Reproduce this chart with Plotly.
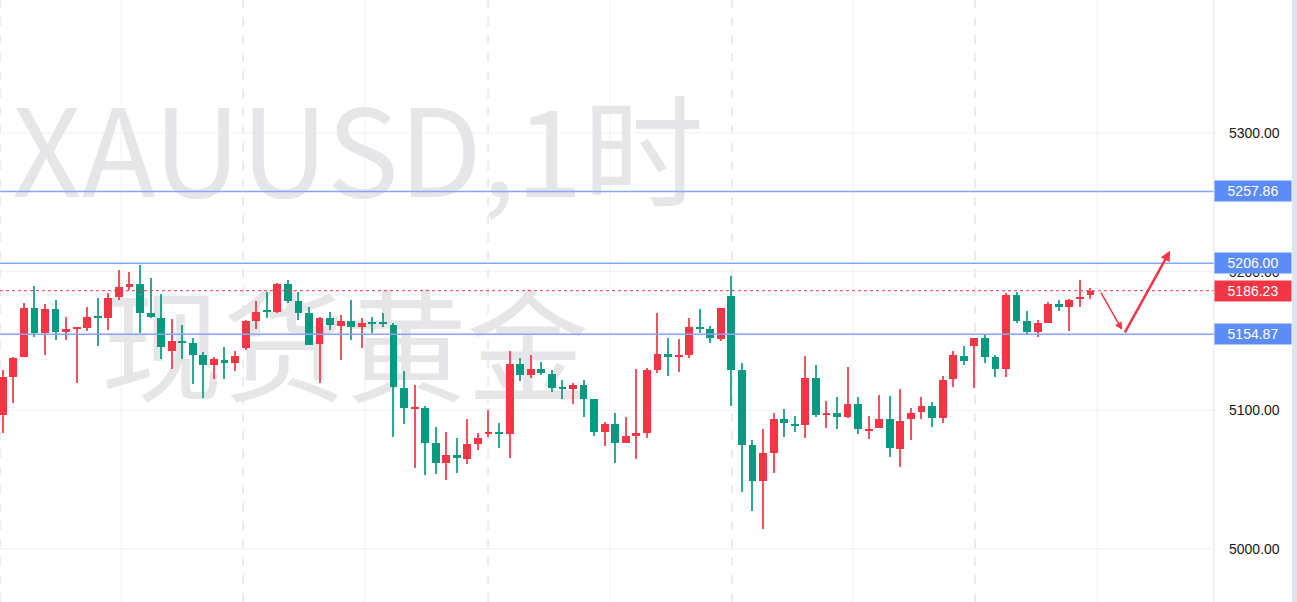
import plotly.graph_objects as go

opens = [5096.5,5124.2,5138.1,5173.7,5155.7,5173.0,5156.4,5158.6,5159.3,5168.0,5166.5,5181.7,5188.9,5191.1,5170.1,5166.5,5142.7,5149.9,5148.5,5139.8,
5132.6,5136.2,5134.1,5144.9,5164.4,5171.6,5170.9,5191.1,5178.8,5170.1,5147.8,5166.5,5160.8,5164.4,5160.0,5163.6,5162.9,5161.5,5116.0,5100.9,
5101.6,5076.3,5061.9,5067.7,5064.8,5075.6,5082.8,5084.3,5082.8,5133.3,5125.4,5129.7,5126.1,5116.0,5115.3,5118.2,5108.1,5084.3,5090.0,5076.3,
5081.4,5083.5,5129.0,5140.5,5138.4,5139.8,5160.0,5158.6,5151.4,5182.4,5129.0,5074.9,5048.9,5069.1,5093.6,5090.0,5089.3,5123.2,5096.5,5098.0,
5095.1,5104.5,5085.7,5087.2,5093.6,5072.0,5093.6,5098.7,5103.0,5094.4,5122.5,5139.1,5146.3,5152.1,5138.4,5129.7,5183.1,5164.4,5156.4,5162.9,
5176.6,5174.5,5180.2,5183.1]
highs = [5129.0,5138.6,5177.3,5189.6,5176.6,5179.5,5167.2,5159.3,5174.5,5181.0,5184.6,5201.2,5199.7,5204.8,5195.4,5183.8,5165.8,5161.5,5152.1,5142.0,
5138.4,5145.6,5142.7,5165.1,5178.8,5185.3,5191.8,5193.9,5185.3,5174.5,5167.2,5170.9,5168.7,5179.5,5166.5,5167.2,5170.1,5162.9,5128.3,5118.2,
5103.0,5087.9,5084.3,5079.9,5093.6,5083.5,5100.1,5090.8,5142.7,5137.7,5139.8,5134.8,5129.0,5121.8,5119.6,5121.8,5108.1,5091.5,5098.0,5095.1,
5129.7,5130.4,5170.1,5152.1,5151.4,5166.5,5173.0,5160.8,5173.7,5196.8,5134.1,5078.5,5086.4,5098.0,5100.9,5095.8,5139.1,5132.6,5106.6,5109.5,
5131.2,5109.5,5095.8,5110.9,5110.2,5115.3,5101.6,5109.5,5105.9,5124.7,5142.7,5146.3,5152.1,5155.0,5139.8,5184.6,5185.3,5171.6,5165.1,5178.1,
5179.5,5180.2,5193.9,5188.2]
lows = [5083.5,5105.2,5138.1,5152.8,5139.8,5150.7,5150.7,5119.6,5157.1,5146.3,5157.9,5179.5,5186.7,5155.7,5166.5,5136.9,5129.7,5136.9,5118.9,5108.8,
5122.5,5122.5,5128.3,5143.4,5158.6,5166.5,5170.1,5177.3,5165.1,5147.0,5119.6,5157.9,5136.2,5150.7,5144.9,5155.7,5160.0,5080.7,5090.0,5058.3,
5053.2,5054.0,5049.6,5054.7,5061.2,5071.3,5080.7,5072.7,5065.5,5121.1,5123.2,5125.4,5113.1,5108.1,5104.5,5095.1,5081.4,5074.2,5061.9,5076.3,
5064.8,5079.9,5126.8,5124.7,5127.6,5137.7,5155.7,5148.5,5149.9,5103.0,5041.0,5027.3,5014.3,5054.7,5080.7,5084.3,5079.9,5095.1,5087.2,5086.4,
5094.4,5082.8,5079.2,5087.2,5066.2,5059.0,5078.5,5093.6,5087.9,5090.8,5116.7,5132.6,5116.0,5134.1,5124.0,5124.0,5162.9,5155.0,5152.8,5162.9,
5171.6,5157.1,5174.5,5180.2]
closes = [5124.2,5137.4,5173.9,5155.7,5173.0,5156.4,5158.6,5159.3,5167.2,5166.5,5181.0,5188.9,5191.1,5170.1,5167.2,5145.6,5149.9,5149.2,5139.8,5132.6,
5136.9,5134.1,5139.1,5164.4,5170.9,5170.9,5191.1,5178.8,5170.1,5147.0,5166.5,5161.5,5164.4,5160.0,5162.9,5162.9,5162.2,5116.7,5101.6,5101.6,
5076.3,5061.9,5067.7,5065.5,5075.6,5079.9,5084.3,5083.5,5133.3,5125.4,5129.7,5126.8,5116.0,5115.3,5118.2,5108.1,5084.3,5090.0,5076.3,5081.4,
5083.5,5129.0,5140.5,5138.4,5139.8,5160.0,5159.3,5152.1,5173.7,5129.0,5074.9,5048.9,5069.1,5093.6,5090.8,5089.3,5123.2,5096.5,5098.0,5095.1,
5104.5,5086.4,5086.4,5093.6,5072.7,5092.2,5098.0,5103.0,5094.4,5121.8,5139.8,5135.5,5152.1,5138.4,5129.7,5183.1,5164.4,5156.4,5162.9,5176.6,
5174.5,5179.5,5181.7,5186.23]
idx = list(range(len(closes)))

levels = [5257.86, 5206.00, 5154.87]
last_price = 5186.23
tick_vals = [5400, 5300, 5200, 5100, 5000]

UP = "#f23645"; DOWN = "#089981"; BLUE = "#5b8cf7"
x0, x1 = -0.26, 114.7
y0, y1 = 4961.6, 5396.0
dom = 1214 / 1297

def px2x(p):
    return (p - 2.7) / 10.56

colors = [UP if c >= o else DOWN for o, c in zip(opens, closes)]
body_base = [min(o, c) for o, c in zip(opens, closes)]
body_h = [max(abs(c - o), 1.0) for o, c in zip(opens, closes)]
wick_h = [h - l for h, l in zip(highs, lows)]

fig = go.Figure()
# watermark on base axes (drawn underneath)
fig.add_trace(go.Scatter(x=[px2x(358), px2x(345)], y=[5276, 5135], mode="text",
    text=["XAUUSD,1时", "现货黄金"],
    textfont=dict(size=[121, 122], color="#e6e6e9", family="Noto Sans CJK SC"),
    hoverinfo="skip", showlegend=False, xaxis="x", yaxis="y"))
# candles on overlaying axes (drawn on top)
fig.add_trace(go.Bar(x=idx, y=wick_h, base=lows, width=0.1, marker=dict(color=colors, line=dict(width=0)),
                     opacity=0.85, showlegend=False, xaxis="x2", yaxis="y2"))
fig.add_trace(go.Bar(x=idx, y=body_h, base=body_base, width=0.74, marker=dict(color=colors, line=dict(width=0)),
                     showlegend=False, xaxis="x2", yaxis="y2"))

shapes = []
for p in [121, 365, 610, 853, 1097]:
    shapes.append(dict(type="line", xref="x", yref="paper", x0=px2x(p), x1=px2x(p), y0=0, y1=1,
                       line=dict(color="#f0f1f4", width=1), layer="below"))
for p in [0, 243, 488, 732, 975]:
    shapes.append(dict(type="line", xref="x", yref="paper", x0=px2x(p), x1=px2x(p), y0=0, y1=1,
                       line=dict(color="#dcdfe6", width=1.2, dash="dash"), layer="below"))
for v in tick_vals:
    shapes.append(dict(type="line", xref="paper", yref="y", x0=0, x1=dom, y0=v, y1=v,
                       line=dict(color="#f0f1f4", width=1), layer="below"))
for lv in levels:
    shapes.append(dict(type="line", xref="paper", yref="y", x0=0, x1=dom, y0=lv, y1=lv,
                       line=dict(color="#86a6f6", width=1.5)))
shapes.append(dict(type="line", xref="paper", yref="y", x0=0, x1=dom, y0=last_price, y1=last_price,
                   line=dict(color=UP, width=1, dash="dot")))
shapes.append(dict(type="line", xref="paper", yref="paper", x0=dom, x1=dom, y0=0, y1=1,
                   line=dict(color="#e0e3eb", width=1)))
shapes.append(dict(type="rect", xref="paper", yref="paper", x0=1292/1297, x1=1, y0=0, y1=1,
                   line=dict(width=0), fillcolor="#e0e3eb"))

ann = []
for v in tick_vals:
    ann.append(dict(xref="paper", yref="y", x=1227/1297, y=v, xanchor="left", yanchor="middle",
                    text=f"{v:.2f}", showarrow=False, font=dict(size=14, color="#131722", family="Liberation Sans")))
for lv, col in [(levels[0], BLUE), (levels[1], BLUE), (last_price, UP), (levels[2], BLUE)]:
    ann.append(dict(xref="paper", yref="y", x=1253/1297, y=lv, xanchor="center", yanchor="middle",
                    text=f"{lv:.2f}", showarrow=False, bgcolor=col, width=74, height=18,
                    font=dict(size=14, color="white", family="Liberation Sans")))
ann.append(dict(xref="x", yref="y", x=px2x(1122), y=5158, ax=px2x(1100), ay=5186,
                axref="x", ayref="y", showarrow=True, arrowhead=2, arrowsize=1, arrowwidth=1.5,
                arrowcolor=UP, text=""))
ann.append(dict(xref="x", yref="y", x=px2x(1170), y=5215, ax=px2x(1124), ay=5155,
                axref="x", ayref="y", showarrow=True, arrowhead=2, arrowsize=0.8, arrowwidth=2.5,
                arrowcolor=UP, text=""))

ax_common = dict(domain=[0, dom], range=[x0, x1], showgrid=False, zeroline=False,
                 showticklabels=False, fixedrange=True)
ay_common = dict(range=[y0, y1], showgrid=False, zeroline=False, showticklabels=False, fixedrange=True)
fig.update_layout(width=1297, height=602, margin=dict(l=0, r=0, t=0, b=0, autoexpand=False),
    paper_bgcolor="white", plot_bgcolor="white", shapes=shapes, annotations=ann,
    barmode="overlay", bargap=0,
    xaxis=ax_common, yaxis=ay_common,
    xaxis2=dict(**ax_common, overlaying="x", anchor="y2"),
    yaxis2=dict(**ay_common, overlaying="y", anchor="x2"),
    hovermode=False)
fig.write_html("out.html", config={"displayModeBar": False})
with open("out.html", encoding="utf-8") as f:
    html = f.read()
html = html.replace("<head>", "<head><style>html,body{margin:0;padding:0;overflow:hidden}</style>", 1)
with open("out.html", "w", encoding="utf-8") as f:
    f.write(html)
